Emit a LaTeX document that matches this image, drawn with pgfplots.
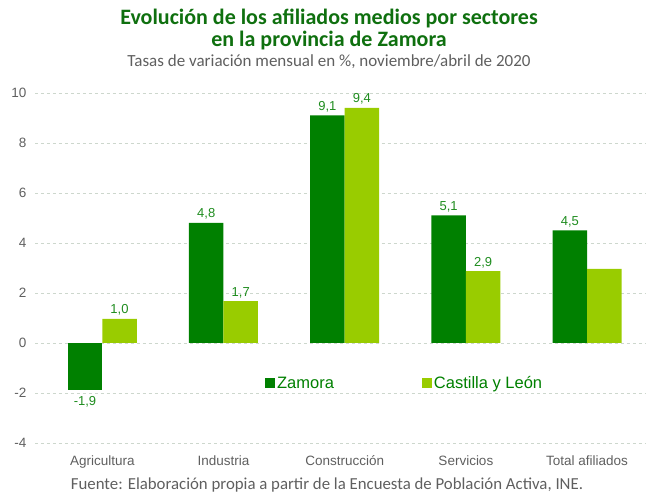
\documentclass[border=0pt]{standalone}
\usepackage{pgfplots}
\pgfplotsset{compat=1.18}
\usepackage{fontspec}
\setmainfont{Liberation Sans}
\newfontfamily\titlefont{Carlito}
\definecolor{zam}{RGB}{0,128,0}
\definecolor{cyl}{RGB}{153,204,0}
\definecolor{lbl}{RGB}{30,140,30}
\definecolor{ttl}{RGB}{15,112,15}
\definecolor{txtgray}{RGB}{95,95,95}
\definecolor{gridc}{RGB}{205,215,205}
\begin{document}
\begin{tikzpicture}[x=1bp,y=1bp]
\useasboundingbox (0,0) rectangle (653,495);
\begin{axis}[at={(35bp,52bp)}, anchor=south west, scale only axis,
  width=610bp, height=350bp,
  ymin=-4, ymax=10, ytick={-4,-2,...,10},
  xmin=-0.555, xmax=4.478, xtick={0,...,4},
  xticklabels={Agricultura,Industria,Construcción,Servicios,Total afiliados},
  axis line style={draw=none}, major tick length=0pt,
  ymajorgrids, grid style={gridc, dashed},
  ybar=0pt, bar width=34.5bp,
  /pgf/number format/assume math mode=true,
  tick label style={font=\fontsize{13.5bp}{15bp}\selectfont, text=txtgray},
  xticklabel style={yshift=-9bp},
  yticklabel style={xshift=-5bp},
  point meta=explicit symbolic,
  nodes near coords={\pgfplotspointmeta},
  nodes near coords style={font=\fontsize{13bp}{15bp}\selectfont, text=lbl},
  legend style={at={(0.372,0.171)}, anchor=west, draw=none, fill=none,
    font=\fontsize{16.5bp}{18bp}\selectfont, text=zam,
    /tikz/every even column/.append style={column sep=86bp}},
  legend columns=2,
  legend image code/.code={\fill[#1,draw=none] (0bp,-5bp) rectangle (10bp,5bp);},
]
\addplot[fill=zam, draw=none, bar shift=-17.25bp] coordinates {(1,4.8)[4,8] (2,9.1)[9,1] (3,5.1)[5,1] (4,4.5)[4,5]};
\addplot[fill=cyl, draw=none, bar shift=17.25bp] coordinates {(0,0.96)[1,0] (1,1.67)[1,7] (2,9.4)[9,4] (3,2.87)[2,9] (4,2.96)[{}]};
\addplot[fill=zam, draw=none, bar shift=-17.25bp, forget plot,
  nodes near coords style={anchor=north, yshift=-2bp}] coordinates {(0,-1.9)[-1,9]};
\legend{Zamora, Castilla y León}
\end{axis}
\node[font=\titlefont\bfseries\fontsize{22bp}{24bp}\selectfont, text=ttl] at (329,476) {Evolución de los afiliados medios por sectores};
\node[font=\titlefont\bfseries\fontsize{22bp}{24bp}\selectfont, text=ttl] at (329,454) {en la provincia de Zamora};
\node[font=\titlefont\fontsize{17bp}{19bp}\selectfont, text=txtgray] at (329,433) {Tasas de variación mensual en \%, noviembre/abril de 2020};
\node[font=\titlefont\fontsize{16.8bp}{19bp}\selectfont, text=txtgray] at (327,10) {Fuente: Elaboración propia a partir de la Encuesta de Población Activa, INE.};
\end{tikzpicture}
\end{document}
